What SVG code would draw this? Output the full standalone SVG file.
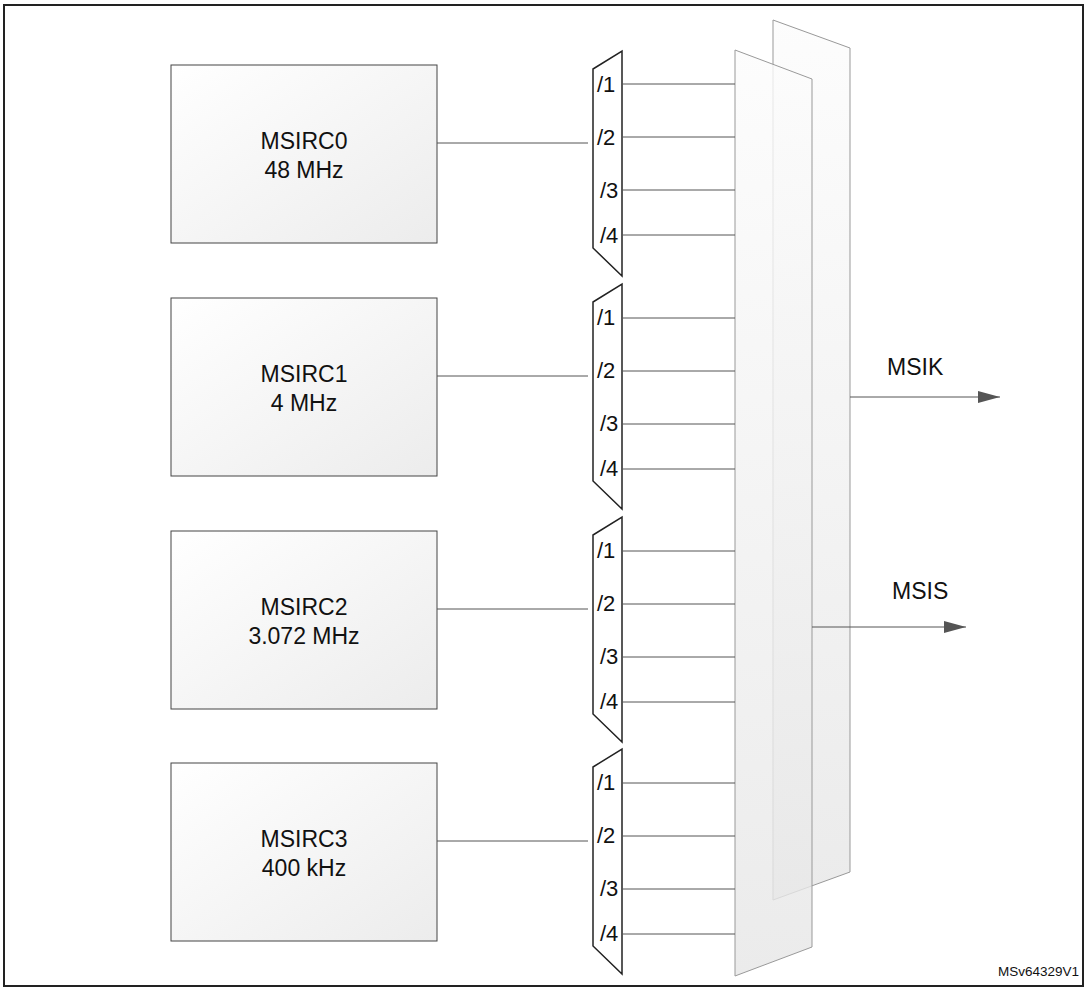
<svg xmlns="http://www.w3.org/2000/svg" width="1087" height="988" viewBox="0 0 1087 988">
<defs>
<linearGradient id="bg" x1="0" y1="0" x2="1" y2="1"><stop offset="0" stop-color="#ffffff"/><stop offset="1" stop-color="#ececec"/></linearGradient>
<linearGradient id="pg" x1="0" y1="0" x2="0" y2="1"><stop offset="0" stop-color="#fcfcfc"/><stop offset="1" stop-color="#e6e6e6"/></linearGradient>
<marker id="ah" markerWidth="22" markerHeight="12" refX="22" refY="6" orient="auto" markerUnits="userSpaceOnUse"><path d="M0,0 L22,6 L0,12 Z" fill="#555"/></marker>
</defs>
<style>
.box{fill:url(#bg);stroke:#444;stroke-width:1}
.t{font-family:"Liberation Sans",Arial,sans-serif;font-size:23px;fill:#111}
.d{font-family:"Liberation Sans",Arial,sans-serif;font-size:22px;fill:#111}
.mux{fill:#fff;stroke:#222;stroke-width:1.5}
.w{stroke:#555;stroke-width:1;fill:none}
.plane{fill:url(#pg);fill-opacity:0.8;stroke:#999;stroke-width:1}
</style>
<rect width="1087" height="988" fill="#fff"/>
<rect x="4" y="5" width="1079" height="981" fill="none" stroke="#222" stroke-width="2"/>

<g id="plane-back"><polygon class="plane" points="773,20 850,48 850,872 773,900"/></g>
<g id="plane-front"><polygon class="plane" points="735,50 812,79 812,947 735,976"/></g>

<g id="msirc0"><rect class="box" x="171" y="65" width="266" height="178"/><text class="t" x="304" y="149" text-anchor="middle">MSIRC0</text><text class="t" x="304" y="178" text-anchor="middle">48 MHz</text></g>
<g id="msirc1"><rect class="box" x="171" y="298" width="266" height="178"/><text class="t" x="304" y="382" text-anchor="middle">MSIRC1</text><text class="t" x="304" y="411" text-anchor="middle">4 MHz</text></g>
<g id="msirc2"><rect class="box" x="171" y="531" width="266" height="178"/><text class="t" x="304" y="615" text-anchor="middle">MSIRC2</text><text class="t" x="304" y="644" text-anchor="middle">3.072 MHz</text></g>
<g id="msirc3"><rect class="box" x="171" y="763" width="266" height="178"/><text class="t" x="304" y="847" text-anchor="middle">MSIRC3</text><text class="t" x="304" y="876" text-anchor="middle">400 kHz</text></g>

<g id="div0"><polygon class="mux" points="593,69 622,51 622,276 593,248"/><text class="d" x="597" y="92">/1</text><text class="d" x="597" y="145">/2</text><text class="d" x="600" y="198">/3</text><text class="d" x="600" y="243">/4</text></g>
<g id="div1"><polygon class="mux" points="593,302 622,284 622,509 593,481"/><text class="d" x="597" y="325">/1</text><text class="d" x="597" y="378">/2</text><text class="d" x="600" y="431">/3</text><text class="d" x="600" y="476">/4</text></g>
<g id="div2"><polygon class="mux" points="593,535 622,517 622,742 593,714"/><text class="d" x="597" y="558">/1</text><text class="d" x="597" y="611">/2</text><text class="d" x="600" y="664">/3</text><text class="d" x="600" y="709">/4</text></g>
<g id="div3"><polygon class="mux" points="593,767 622,749 622,974 593,946"/><text class="d" x="597" y="790">/1</text><text class="d" x="597" y="843">/2</text><text class="d" x="600" y="896">/3</text><text class="d" x="600" y="941">/4</text></g>

<g id="connectors">
<path class="w" d="M437,143H588 M437,376H588 M437,609H588 M437,841H588"/>
<path class="w" d="M622,84H735 M622,137H735 M622,190H735 M622,235H735
M622,318H735 M622,371H735 M622,424H735 M622,469H735
M622,551H735 M622,604H735 M622,657H735 M622,702H735
M622,783H735 M622,836H735 M622,889H735 M622,934H735"/>
<line class="w" x1="850" y1="397" x2="1000" y2="397" marker-end="url(#ah)"/>
<line class="w" x1="812" y1="627" x2="966" y2="627" marker-end="url(#ah)"/>
</g>
<text class="t" x="887" y="375">MSIK</text>
<text class="t" x="892" y="599">MSIS</text>
<text x="1079" y="976" text-anchor="end" font-family="Liberation Sans,Arial,sans-serif" font-size="13.5" fill="#111">MSv64329V1</text>
</svg>
